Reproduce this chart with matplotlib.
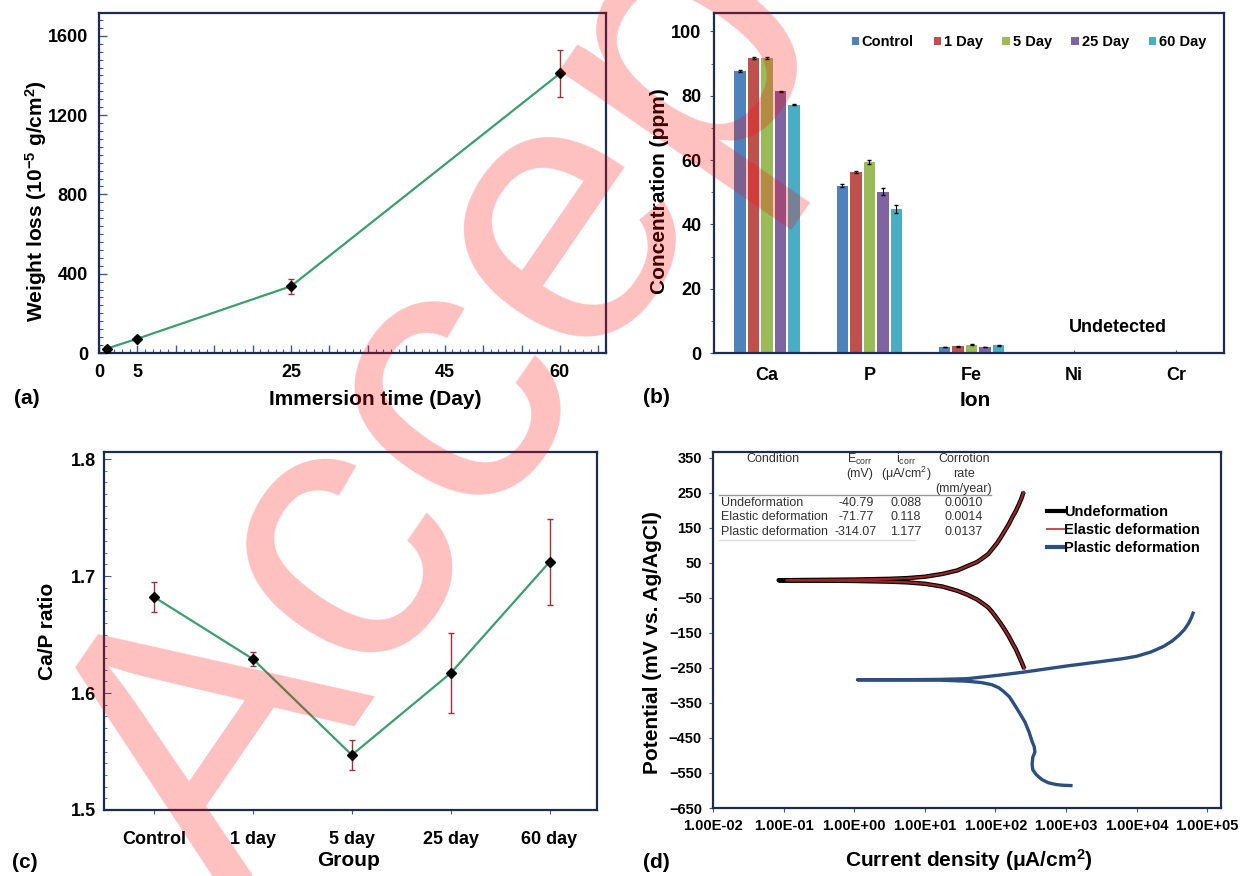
import numpy as np
import matplotlib
matplotlib.use('Agg')
import matplotlib.pyplot as plt
from matplotlib.ticker import MultipleLocator, FixedLocator, FuncFormatter
from matplotlib.patches import Patch
from matplotlib.lines import Line2D

plt.rcParams['font.family'] = ['Liberation Sans', 'DejaVu Sans']
plt.rcParams['mathtext.fontset'] = 'custom'
plt.rcParams['mathtext.rm'] = 'Liberation Sans'
plt.rcParams['mathtext.default'] = 'regular'

# ---------------- data ----------------
# (a) weight loss
days = [1, 5, 25, 60]
weight_loss = [22, 72, 337, 1410]
weight_loss_err = [6, 8, 38, 120]
xtick_labels_a = [0, 5, 25, 45, 60]

# (b) ion concentration
ions = ['Ca', 'P', 'Fe', 'Ni', 'Cr']
groups_b = ['Control', '1 Day', '5 Day', '25 Day', '60 Day']
conc_control = [87.7, 52.0, 1.9, 0, 0]
conc_1day = [91.7, 56.2, 2.1, 0, 0]
conc_5day = [91.7, 59.3, 2.6, 0, 0]
conc_25day = [81.3, 50.2, 1.9, 0, 0]
conc_60day = [77.2, 44.8, 2.4, 0, 0]
err_control = [0.3, 0.5, 0.1, 0, 0]
err_1day = [0.3, 0.3, 0.1, 0, 0]
err_5day = [0.3, 0.6, 0.1, 0, 0]
err_25day = [0.3, 1.1, 0.1, 0, 0]
err_60day = [0.2, 1.2, 0.1, 0, 0]
colors_b = ['#4f81bd', '#c0504d', '#9bbb59', '#8064a2', '#4bacc6']

# (c) Ca/P ratio
groups_c = ['Control', '1 day', '5 day', '25 day', '60 day']
ca_p = [1.682, 1.629, 1.547, 1.617, 1.712]
ca_p_err = [0.0125, 0.006, 0.0125, 0.034, 0.037]

# (d) polarization curves: log10(current density, uA/cm2) and potential (mV)
logi_undef = [2.41, 2.37, 2.33, 2.29, 2.24, 2.19, 2.13, 2.07, 2.02, 1.96, 1.90, 1.82, 1.74,
              1.60, 1.46, 1.25, 1.00, 0.75, 0.50, 0.00, -0.50, -1.07,
              -0.50, 0.00, 0.50, 0.75, 1.00, 1.25, 1.46, 1.60, 1.74, 1.82, 1.90, 1.96,
              2.02, 2.07, 2.13, 2.19, 2.24, 2.29, 2.33, 2.37, 2.40]
E_undef = [-253, -233, -215, -197, -179, -160, -140, -122, -108, -92, -78, -66, -55,
           -41, -30, -18, -10, -6, -4, -2, -1, 0,
           1, 2, 4, 6, 10, 18, 28, 40, 52, 63, 75, 90,
           105, 120, 140, 160, 180, 198, 215, 234, 252]
logi_elastic = [2.41, 2.37, 2.33, 2.29, 2.24, 2.19, 2.13, 2.07, 2.02, 1.96, 1.90, 1.82, 1.74,
                1.60, 1.46, 1.25, 1.00, 0.75, 0.50, 0.00, -0.50, -0.96,
                -0.50, 0.00, 0.50, 0.75, 1.00, 1.25, 1.46, 1.60, 1.74, 1.82, 1.90, 1.96,
                2.02, 2.07, 2.13, 2.19, 2.24, 2.29, 2.33, 2.37, 2.40]
E_elastic = [-253, -233, -215, -197, -179, -160, -140, -122, -108, -92, -78, -66, -55,
             -41, -30, -18, -10, -6, -4, -2, -1, 0,
             1, 2, 4, 6, 10, 18, 28, 40, 52, 63, 75, 90,
             105, 120, 140, 160, 180, 198, 215, 234, 252]
logi_plastic = [3.07, 2.95, 2.86, 2.75, 2.66, 2.58, 2.53, 2.52, 2.53, 2.56, 2.55, 2.52, 2.48,
                2.42, 2.34, 2.27, 2.20, 2.12, 2.05, 1.95, 1.80, 1.59, 1.20, 0.60, 0.05,
                0.60, 1.20, 1.60, 2.05, 2.41, 3.00, 3.50, 3.80, 4.00, 4.20, 4.38, 4.50,
                4.60, 4.68, 4.74, 4.78, 4.80]
E_plastic = [-586, -585, -583, -578, -569, -555, -541, -525, -505, -490, -475, -460, -435,
             -405, -378, -355, -333, -318, -307, -298, -292, -288, -285, -284, -284,
             -284, -283, -281, -271, -262, -245, -232, -224, -217, -205, -189, -174,
             -157, -140, -122, -105, -94]
xtick_labels_d = ['1.00E-02', '1.00E-01', '1.00E+00', '1.00E+01', '1.00E+02',
                  '1.00E+03', '1.00E+04', '1.00E+05']
table_rows = ['Undeformation', 'Elastic deformation', 'Plastic deformation']
table_ecorr = ['-40.79', '-71.77', '-314.07']
table_icorr = ['0.088', '0.118', '1.177']
table_rate = ['0.0010', '0.0014', '0.0137']

# ---------------- style ----------------
W, H = 1243, 876
fig = plt.figure(figsize=(W / 100, H / 100), dpi=100)

SPINE = '#1c2b4e'
TICKC = '#3a5a9a'
GREEN = '#3c9f6b'
ERRC = '#a0303a'


def px_axes(l, t, r, b):
    return fig.add_axes([l / W, 1 - b / H, (r - l) / W, (b - t) / H])


def style(ax):
    for s in ax.spines.values():
        s.set_color(SPINE)
        s.set_linewidth(1.6)
    for lab in ax.get_xticklabels() + ax.get_yticklabels():
        lab.set_fontweight('bold')


# ---------------- (a) ----------------
axa = px_axes(99, 13, 606, 353)
axa.errorbar(days, weight_loss, yerr=weight_loss_err, color=GREEN, lw=1.6,
             marker='D', ms=5.5, mfc='black', mec='black',
             ecolor=ERRC, elinewidth=1, capsize=2, zorder=3)
axa.set_xlim(0, 66)
axa.set_ylim(0, 1715)
axa.xaxis.set_major_locator(MultipleLocator(5))
axa.xaxis.set_minor_locator(MultipleLocator(1))
axa.xaxis.set_major_formatter(FuncFormatter(
    lambda v, p: f'{int(round(v))}' if int(round(v)) in xtick_labels_a else ''))
axa.yaxis.set_major_locator(MultipleLocator(400))
axa.yaxis.set_minor_locator(MultipleLocator(40))
axa.tick_params(axis='both', which='major', direction='in', length=6, color=TICKC, width=1,
                labelsize=13, pad=8)
axa.tick_params(axis='both', which='minor', direction='in', length=3, color=TICKC, width=0.8)
axa.set_ylabel('Weight loss (10$^{-5}$ g/cm$^{2}$)', fontsize=15, fontweight='bold', va='center')
axa.yaxis.set_label_coords(-0.124, 0.447)
axa.set_xlabel('Immersion time (Day)', fontsize=15, fontweight='bold', va='center')
axa.xaxis.set_label_coords(0.544, -0.138)
style(axa)
fig.text(27 / W, 1 - 398 / H, '(a)', fontsize=15, fontweight='bold', ha='center', va='center')

# ---------------- (b) ----------------
axb = px_axes(714, 13, 1224, 353)
xb = np.arange(len(ions))
series_b = [conc_control, conc_1day, conc_5day, conc_25day, conc_60day]
errs_b = [err_control, err_1day, err_5day, err_25day, err_60day]
slot = 0.132
handles = []
for k, (vals, errs, col, name) in enumerate(zip(series_b, errs_b, colors_b, groups_b)):
    pos = xb + (k - 2) * slot
    axb.bar(pos, vals, width=0.112, color=col, zorder=2)
    v = np.array(vals, dtype=float)
    e = np.array(errs, dtype=float)
    m = v > 0
    axb.errorbar(pos[m], v[m], yerr=e[m], fmt='none', ecolor='black', elinewidth=0.8,
                 capsize=1.5, zorder=3)
    handles.append(Patch(facecolor=col, edgecolor='none', label=name))
axb.set_xlim(-0.52, 4.47)
axb.set_ylim(0, 105.7)
axb.set_xticks(xb)
axb.set_xticklabels(ions)
axb.yaxis.set_major_locator(MultipleLocator(20))
axb.yaxis.set_minor_locator(MultipleLocator(10))
axb.tick_params(axis='y', which='major', direction='out', length=3, color=TICKC, labelsize=13, pad=6)
axb.tick_params(axis='y', which='minor', direction='out', length=2, color=TICKC)
axb.tick_params(axis='x', direction='in', length=2, color=TICKC, labelsize=13, pad=10)
axb.set_ylabel('Concentration (ppm)', fontsize=15, fontweight='bold', va='center')
axb.yaxis.set_label_coords(-0.106, 0.476)
axb.set_xlabel('Ion', fontsize=15, fontweight='bold', va='center')
axb.xaxis.set_label_coords(0.512, -0.141)
axb.text(3.43, 7.8, 'Undetected', fontsize=13, fontweight='bold', ha='center', va='center')
axb.legend(handles=handles, loc='upper right', bbox_to_anchor=(0.965, 0.935), ncol=5,
           frameon=False, handlelength=0.5, handleheight=0.5, handletextpad=0.2,
           columnspacing=1.35, borderpad=0, borderaxespad=0,
           prop={'weight': 'bold', 'size': 10.5})
style(axb)
fig.text(656 / W, 1 - 397 / H, '(b)', fontsize=15, fontweight='bold', ha='center', va='center')

# ---------------- (c) ----------------
axc = px_axes(104, 452, 597, 810)
xc = np.arange(len(groups_c))
axc.errorbar(xc, ca_p, yerr=ca_p_err, color=GREEN, lw=1.6,
             marker='D', ms=5.5, mfc='black', mec='black',
             ecolor=ERRC, elinewidth=1, capsize=2, zorder=3)
axc.set_xlim(-0.507, 4.48)
axc.set_ylim(1.5, 1.806)
axc.set_xticks(xc)
axc.set_xticklabels(groups_c)
axc.yaxis.set_major_locator(MultipleLocator(0.1))
axc.yaxis.set_minor_locator(MultipleLocator(0.01))
axc.yaxis.set_major_formatter(FuncFormatter(lambda v, p: f'{v:.1f}'))
axc.tick_params(axis='y', which='major', direction='in', length=5, color=TICKC, labelsize=13, pad=6)
axc.tick_params(axis='y', which='minor', direction='in', length=2.5, color=TICKC)
axc.tick_params(axis='x', direction='out', length=3, color=TICKC, labelsize=13, pad=12)
axc.set_ylabel('Ca/P ratio', fontsize=15, fontweight='bold', va='center')
axc.yaxis.set_label_coords(-0.114, 0.5)
axc.set_xlabel('Group', fontsize=15, fontweight='bold', va='center')
axc.xaxis.set_label_coords(0.497, -0.14)
style(axc)
fig.text(25 / W, 1 - 863 / H, '(c)', fontsize=15, fontweight='bold', ha='center', va='center')

# ---------------- (d) ----------------
axd = px_axes(713, 452, 1221, 808)
axd.plot(10 ** np.array(logi_undef), E_undef, color='black', lw=3.2, solid_capstyle='butt',
         solid_joinstyle='round', zorder=2)
axd.plot(10 ** np.array(logi_elastic), E_elastic, color='#9b2426', lw=1.6,
         solid_joinstyle='round', zorder=3)
axd.plot(10 ** np.array(logi_plastic), E_plastic, color='#2b4f80', lw=2.4,
         solid_joinstyle='round', zorder=3)
axd.set_xscale('log')
axd.set_xlim(1e-2, 1.57e5)
axd.set_ylim(-650, 366)
axd.xaxis.set_major_locator(FixedLocator([10.0 ** k for k in range(-2, 6)]))
axd.xaxis.set_minor_locator(FixedLocator([]))
axd.set_xticklabels(xtick_labels_d)
axd.set_yticks(np.arange(-650, 351, 100))
axd.tick_params(axis='both', direction='out', length=3, color=TICKC, labelsize=10.5, pad=5)
axd.set_ylabel('Potential (mV vs. Ag/AgCl)', fontsize=15, fontweight='bold', va='center')
axd.yaxis.set_label_coords(-0.12, 0.466)
axd.set_xlabel('Current density (μA/cm$^{2}$)', fontsize=15, fontweight='bold', va='center')
axd.xaxis.set_label_coords(0.504, -0.146)
leg_handles = [Line2D([], [], color='black', lw=3),
               Line2D([], [], color='#c0504d', lw=1.4),
               Line2D([], [], color='#2b4f80', lw=3)]
axd.legend(leg_handles, table_rows, loc='upper left', bbox_to_anchor=(0.657, 0.85),
           frameon=False, handlelength=1.15, handletextpad=0.05, labelspacing=0.25,
           borderpad=0, borderaxespad=0, prop={'weight': 'bold', 'size': 10.5})
style(axd)


def ftxt(x, y, s, **kw):
    fig.text(x / W, 1 - y / H, s, fontsize=9, color='#333333', va='center', **kw)


ftxt(773, 459, 'Condition', ha='center')
ftxt(860, 459, 'E$_{corr}$', ha='center')
ftxt(860, 474, '(mV)', ha='center')
ftxt(906, 459, 'i$_{corr}$', ha='center')
ftxt(906, 474, '(μA/cm$^{2}$)', ha='center')
ftxt(964, 459, 'Corrotion', ha='center')
ftxt(964, 474, 'rate', ha='center')
ftxt(964, 489, '(mm/year)', ha='center')
for i, (r, e, c, rt) in enumerate(zip(table_rows, table_ecorr, table_icorr, table_rate)):
    y = 503 + i * 14.5
    ftxt(721, y, r, ha='left')
    ftxt(856, y, e, ha='center')
    ftxt(906, y, c, ha='center')
    ftxt(964, y, rt, ha='center')
fig.add_artist(Line2D([719 / W, 991 / W], [1 - 495 / H, 1 - 495 / H], color='#999999', lw=1))
fig.add_artist(Line2D([719 / W, 915 / W], [1 - 540 / H, 1 - 540 / H], color='#dddddd', lw=1))
fig.text(656 / W, 1 - 863 / H, '(d)', fontsize=15, fontweight='bold', ha='center', va='center')

# ---------------- watermark ----------------
fig.text(231 / W, 1 - 905 / H, 'Accepted', rotation=55.5, rotation_mode='anchor',
         ha='left', va='baseline', fontsize=275, color='#ff0000', alpha=0.25, zorder=10)

fig.savefig('out.png', dpi=100)
